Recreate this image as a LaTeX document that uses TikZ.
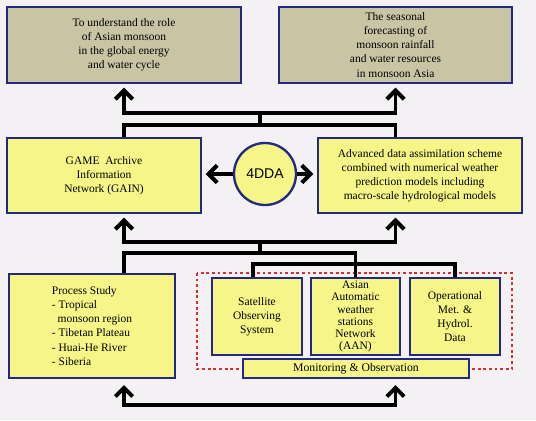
\documentclass[tikz,border=0pt]{standalone}
\usepackage{fontspec}
\setmainfont{Liberation Serif}
\newfontfamily\sansfnt{Liberation Sans}
\usepackage{tikz}
\usetikzlibrary{arrows.meta, positioning, calc}
\definecolor{boxblue}{RGB}{35,40,130}
\definecolor{boxyellow}{RGB}{246,245,135}
\definecolor{goalgrey}{RGB}{200,196,164}
\definecolor{paper}{RGB}{244,241,245}
\definecolor{dotred}{RGB}{215,45,45}

\begin{document}
\begin{tikzpicture}[
  x=0.03cm, y=-0.03cm,
  font=\fontsize{9.8}{12}\selectfont,
  box/.style={draw=boxblue, line width=2pt, fill=boxyellow, align=center, inner sep=2pt},
  goal/.style={box, fill=goalgrey, minimum height=2.28cm},
  mid/.style={box, minimum height=2.25cm},
  obs/.style={box, minimum width=2.7cm, minimum height=2.31cm},
  ln/.style={line width=3.4pt, line join=miter},
  ar/.style={ln, -{Straight Barb[length=2.6mm, width=5.2mm]}, shorten >=3pt}
]
\fill[paper] (0,0) rectangle (536,420);
\useasboundingbox (0,0) rectangle (536,420);

\node[goal, minimum width=7.02cm] at (124,45)   (goal1) {To understand the role\\of Asian monsoon\\in the global energy\\and water cycle};
\node[goal, minimum width=6.99cm] at (395.5,45) (goal2) {The seasonal\\forecasting of\\monsoon rainfall\\and water resources\\in monsoon Asia};

\node[mid, minimum width=5.82cm] at (104,175.5) (gain) {GAME~ Archive\\Information\\Network (GAIN)};
\node[mid, minimum width=6.12cm] at (420,175.5) (adv)  {Advanced data assimilation scheme\\combined with numerical weather\\prediction models including\\macro-scale hydrological models};
\node[box, circle, minimum size=1.86cm, font=\sansfnt\fontsize{12}{14}\selectfont] at (265,174) (dda) {4DDA};

\draw[dotred, line width=2.4pt, dash pattern=on 2.4pt off 2.4pt] (197,273) rectangle (512,369);

\node[box, minimum width=4.98cm, minimum height=3.12cm, align=left] at (92,326) (proc)
     {Process Study\\- Tropical\\\ \ monsoon region\\- Tibetan Plateau\\- Huai-He River\\- Siberia};
\node[obs] at (257,316.5)   (sat)  {Satellite\\Observing\\System};
\node[obs, minimum width=2.67cm, font=\fontsize{9.8}{10.3}\selectfont] at (355.5,316.5) (aan)
     {Asian\\Automatic\\weather\\stations\\Network\\(AAN)};
\node[obs] at (455,316.5)   (oper) {Operational\\Met. \&\\Hydrol.\\Data};
\node[box, minimum width=6.78cm, minimum height=0.57cm, inner sep=1pt, font=\fontsize{10}{12}\selectfont] at (356,368.5) (mon)
     {Monitoring \& Observation};

\coordinate (hubA) at (260,125);
\coordinate (hubB) at (260,113);
\coordinate (hubC) at (260,242);
\coordinate (hubD) at (260,253);
\coordinate (hubF) at (260,405);

\draw[ln] (goal1 |- gain.north) |- (hubA) -| (goal2 |- adv.north);
\draw[ln] (hubA) -- (hubB);
\draw[ar] (hubB) -| (goal1.south);
\draw[ar] (hubB) -| (goal2.south);

\draw[ar] (dda.west) -- (dda.west -| gain.east);
\draw[ar] (dda.east) -- (dda.east -| adv.west);

\draw[ar] (hubC) -| (goal1 |- gain.south);
\draw[ar] (hubC) -| (goal2 |- adv.south);
\draw[ln] (hubC) -- (hubD);
\draw[ln] (goal1 |- proc.north) |- (hubD) -| (aan.north);
\draw[ln] ([xshift=-0.12cm]sat.north) -- ++(0,-13) -| (oper.north);

\draw[ar, shorten >=5pt] (hubF) -| (goal1 |- proc.south);
\draw[ar, shorten >=5pt] (hubF) -| (goal2 |- mon.south);
\end{tikzpicture}
\end{document}
